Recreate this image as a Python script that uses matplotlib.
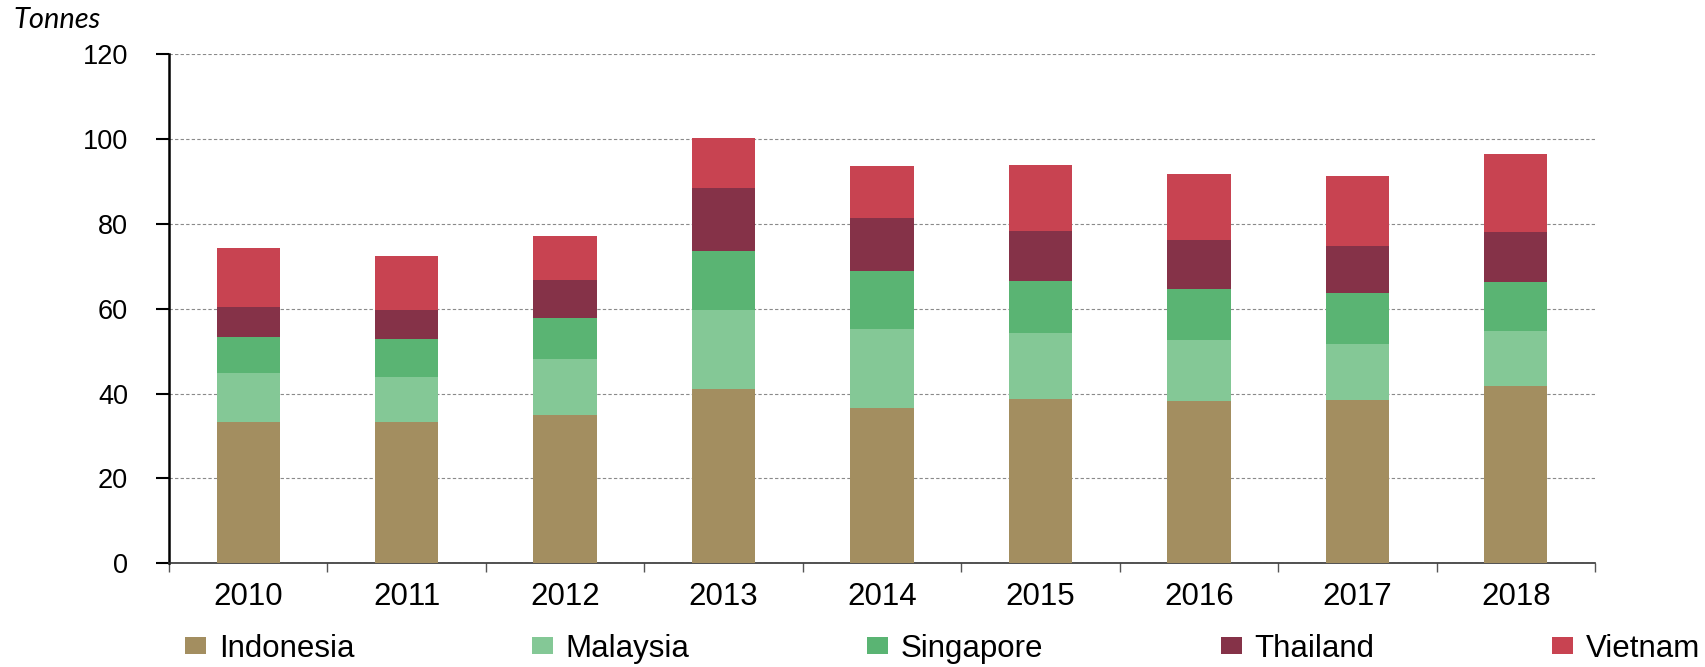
import matplotlib.pyplot as plt
import numpy as np
from matplotlib.patches import Patch

# =====================================================
# DATA (tonnes)
# =====================================================

years = ["2010", "2011", "2012", "2013", "2014", "2015", "2016", "2017", "2018"]

indonesia = [33.3, 33.3, 35.0, 41.1, 36.5, 38.8, 38.3, 38.5, 41.8]
malaysia = [11.6, 10.7, 13.2, 18.5, 18.7, 15.4, 14.3, 13.2, 13.0]
singapore = [8.5, 8.8, 9.6, 14.0, 13.6, 12.3, 12.0, 12.0, 11.6]
thailand = [7.1, 7.0, 9.1, 15.0, 12.5, 11.9, 11.7, 11.1, 11.8]
vietnam = [13.9, 12.7, 10.3, 11.8, 12.5, 15.6, 15.5, 16.6, 18.3]

series = ["Indonesia", "Malaysia", "Singapore", "Thailand", "Vietnam"]
colors = ["#A38E60", "#84C896", "#5AB473", "#853248", "#C84351"]

yticks = [0, 20, 40, 60, 80, 100, 120]

# =====================================================
# FIGURE
# =====================================================

plt.rcParams["font.family"] = ["Liberation Sans", "DejaVu Sans"]

fig = plt.figure(figsize=(17.06, 6.67), dpi=100)
ax = fig.add_axes([0.0991, 0.1559, 0.8358, 0.7624])

x = np.arange(len(years))
bottom = np.zeros(len(years))

for name, vals, col in zip(series, [indonesia, malaysia, singapore, thailand, vietnam], colors):
    ax.bar(x, vals, 0.4, bottom=bottom, color=col, label=name, zorder=3, linewidth=0)
    bottom += np.array(vals)

ax.set_xlim(-0.5, len(years) - 0.5)
ax.set_ylim(0, 120)

ax.set_yticks(yticks)
ax.tick_params(axis="y", direction="out", length=9.5, width=1.5, pad=20, labelsize=19.5)

# year labels centred under bars, ticks between bars
ax.set_xticks(x)
ax.set_xticklabels(years)
ax.set_xticks(np.arange(-0.5, len(years)), minor=True)
ax.tick_params(axis="x", which="major", length=0, pad=14, labelsize=22.5)
ax.tick_params(axis="x", which="minor", direction="out", length=6.5, width=1, color="#555555")

ax.grid(axis="y", color="#8a8a8a", linestyle=(0, (3, 2)), linewidth=0.8, zorder=0)

ax.spines["top"].set_visible(False)
ax.spines["right"].set_visible(False)
ax.spines["left"].set_linewidth(1.8)
ax.spines["bottom"].set_linewidth(1.2)
ax.spines["bottom"].set_color("#333333")

fig.text(0.0076, 0.958, "Tonnes", fontsize=21, style="italic", family=["Lato", "DejaVu Sans"])

handles = [Patch(facecolor=c, label=s) for s, c in zip(series, colors)]

fig.legend(
    handles=handles,
    ncol=5,
    loc="center left",
    bbox_to_anchor=(0.1084, 0.027, 0.888, 0.0),
    mode="expand",
    frameon=False,
    fontsize=22.5,
    handlelength=0.68,
    handleheight=0.45,
    handletextpad=0.4,
    borderpad=0,
    borderaxespad=0,
)

fig.savefig("out.png", dpi=100)
